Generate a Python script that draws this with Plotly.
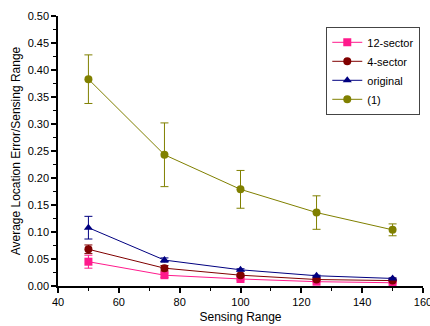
import plotly.graph_objects as go

x = [50, 75, 100, 125, 150]
names = ["12-sector", "4-sector", "original", "(1)"]
colors = ["#FF1A8C", "#800000", "#000080", "#808000"]
symbols = ["square", "circle", "triangle-up", "circle"]

y12 = [0.045, 0.020, 0.013, 0.008, 0.006]
e12 = [0.012, 0.004, 0.002, 0.001, 0.001]
y4 = [0.068, 0.033, 0.020, 0.012, 0.010]
e4 = [0.008, 0.005, 0.002, 0.001, 0.001]
yo = [0.108, 0.048, 0.030, 0.019, 0.014]
eo = [0.021, 0.004, 0.002, 0.001, 0.001]
y1 = [0.383, 0.243, 0.179, 0.136, 0.104]
e1 = [0.045, 0.059, 0.035, 0.031, 0.011]

series = [y12, y4, yo, y1]
errs = [e12, e4, eo, e1]

fig = go.Figure()
for n, c, s, yy, ee in zip(names, colors, symbols, series, errs):
    fig.add_trace(go.Scatter(
        x=x, y=yy, name=n, mode="lines+markers",
        line=dict(color=c, width=1),
        marker=dict(color=c, symbol=s, size=8),
        error_y=dict(type="data", array=ee, visible=True, color=c, thickness=1, width=4),
    ))

fig.update_layout(
    width=430, height=326,
    margin=dict(l=58, r=7, t=16, b=40),
    paper_bgcolor="white", plot_bgcolor="white",
    font=dict(family="Liberation Sans, Arial, sans-serif", size=11, color="black"),
    showlegend=True,
    legend=dict(x=0.735, y=0.96, xanchor="left", yanchor="top",
                bordercolor="#444", borderwidth=1, bgcolor="white",
                font=dict(size=11), tracegroupgap=0, itemwidth=30),
    xaxis=dict(range=[40, 160], tickvals=[40, 60, 80, 100, 120, 140, 160],
               ticklabeloverflow="allow", automargin=False,
               showgrid=False, zeroline=False, showline=True, linecolor="black", linewidth=1.5,
               ticks="outside", ticklen=5, tickwidth=1.5, tickcolor="black",
               minor=dict(dtick=10, ticks="outside", ticklen=3, tickwidth=1, tickcolor="black"),
               title=dict(text="Sensing Range", font=dict(size=12), standoff=6)),
    yaxis=dict(range=[0, 0.5], dtick=0.05, tickformat=".2f", automargin=False,
               showgrid=False, zeroline=False, showline=True, linecolor="black", linewidth=1.5,
               ticks="outside", ticklen=5, tickwidth=1.5, tickcolor="black",
               minor=dict(dtick=0.025, ticks="outside", ticklen=3, tickwidth=1, tickcolor="black"),
               title=dict(text="Average Location Error/Sensing Range", font=dict(size=12), standoff=4)),
)

fig.write_html("out.html", config={"displayModeBar": False},
               post_script="document.body.style.margin='0';document.body.style.overflow='hidden';")
